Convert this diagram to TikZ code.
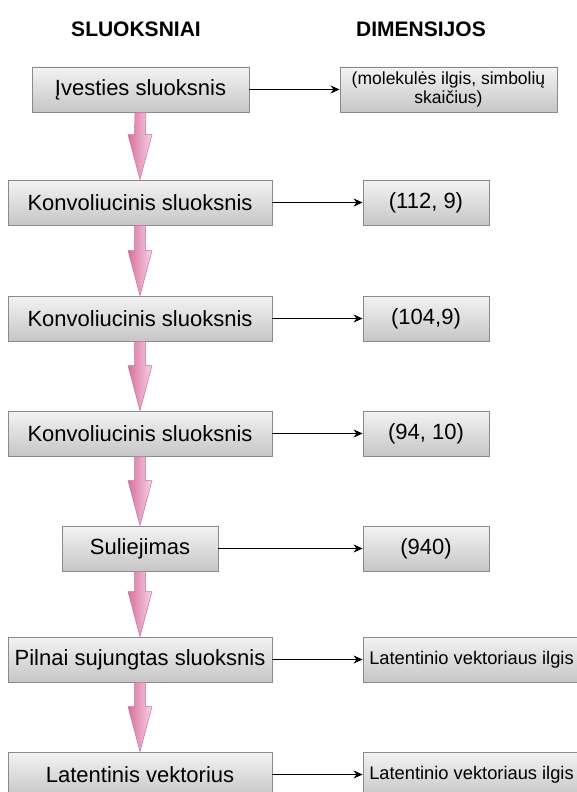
\documentclass[tikz,border=0pt]{standalone}
\usepackage{fontspec}
\setmainfont{Liberation Sans}
\usetikzlibrary{calc,arrows.meta}

\definecolor{boxtop}{HTML}{F3F3F3}
\definecolor{boxbot}{HTML}{C6C6C6}
\definecolor{boxline}{HTML}{8A8A8A}
\definecolor{pinkdark}{HTML}{D8709E}
\definecolor{pinklight}{HTML}{F6D2E4}
\definecolor{pinkline}{HTML}{C6719C}

\tikzset{
  layerbox/.style={draw=boxline, line width=0.9pt, top color=boxtop, bottom color=boxbot,
    minimum height=45pt, inner sep=0pt, text=black, font=\fontsize{22}{26}\selectfont},
  smallbox/.style={layerbox, font=\fontsize{18.3}{22}\selectfont},
  headline/.style={font=\fontsize{21}{25}\selectfont\bfseries},
  link/.style={-{Stealth[length=9pt,width=8pt]}, line width=0.9pt},
  flow/.style={left color=pinkdark, right color=pinklight, draw=pinkline, line width=0.5pt}
}

% thick shaded block arrow from the bottom of one box to the top of the next
\newcommand\flowarrow[2]{%
  \path[flow] ($(#1.south)+(-5.5,0)$) -- ($(#2.north)+(-5.5,-45)$)
    -- ($(#2.north)+(-12,-45)$) -- (#2.north) -- ($(#2.north)+(12,-45)$)
    -- ($(#2.north)+(5.5,-45)$) -- ($(#1.south)+(5.5,0)$) -- cycle;}

\begin{document}
\begin{tikzpicture}[x=1pt, y=-1pt]
  \useasboundingbox (0,0) rectangle (576,792);

  % column titles
  \node[headline] (hl) at (136,29) {SLUOKSNIAI};
  \node[headline] (hr) at (421,29) {DIMENSIJOS};

  % layers
  \node[layerbox, minimum width=217pt] (in) at (140.5,89.5) {Įvesties sluoksnis};
  \node[layerbox, minimum width=264pt] (c1) at (140,202.5) {Konvoliucinis sluoksnis};
  \node[layerbox, minimum width=264pt] (c2) at (140,318.5) {Konvoliucinis sluoksnis};
  \node[layerbox, minimum width=264pt] (c3) at (140,433.5) {Konvoliucinis sluoksnis};
  \node[layerbox, minimum width=156pt] (sl) at (140,548.5) {Suliejimas};
  \node[layerbox, minimum width=264pt] (pl) at (140,659.5) {Pilnai sujungtas sluoksnis};
  \node[layerbox, minimum width=264pt] (lv) at (140,774.5) {Latentinis vektorius};

  % dimensions
  \node[layerbox, minimum width=217pt, align=center, font=\fontsize{17.5}{19.5}\selectfont]
    (d0) at (448.5,89.5) {(molekulės ilgis, simbolių\\skaičius)};
  \node[layerbox, minimum width=126pt] (d1) at (426,202.5) {(112, 9)};
  \node[layerbox, minimum width=126pt] (d2) at (426,318.5) {(104,9)};
  \node[layerbox, minimum width=126pt] (d3) at (426,433.5) {(94, 10)};
  \node[layerbox, minimum width=126pt] (d4) at (426,548.5) {(940)};
  \node[smallbox, minimum width=217pt] (d5) at (471.5,659.5) {Latentinio vektoriaus ilgis};
  \node[smallbox, minimum width=217pt] (d6) at (471.5,774.5) {Latentinio vektoriaus ilgis};

  % layer to dimension links
  \draw[link] (in.east) -- (d0.west);
  \draw[link] (c1.east) -- (d1.west);
  \draw[link] (c2.east) -- (d2.west);
  \draw[link] (c3.east) -- (d3.west);
  \draw[link] (sl.east) -- (d4.west);
  \draw[link] (pl.east) -- (d5.west);
  \draw[link] (lv.east) -- (d6.west);

  % data flow between layers
  \flowarrow{in}{c1}
  \flowarrow{c1}{c2}
  \flowarrow{c2}{c3}
  \flowarrow{c3}{sl}
  \flowarrow{sl}{pl}
  \flowarrow{pl}{lv}
\end{tikzpicture}
\end{document}
